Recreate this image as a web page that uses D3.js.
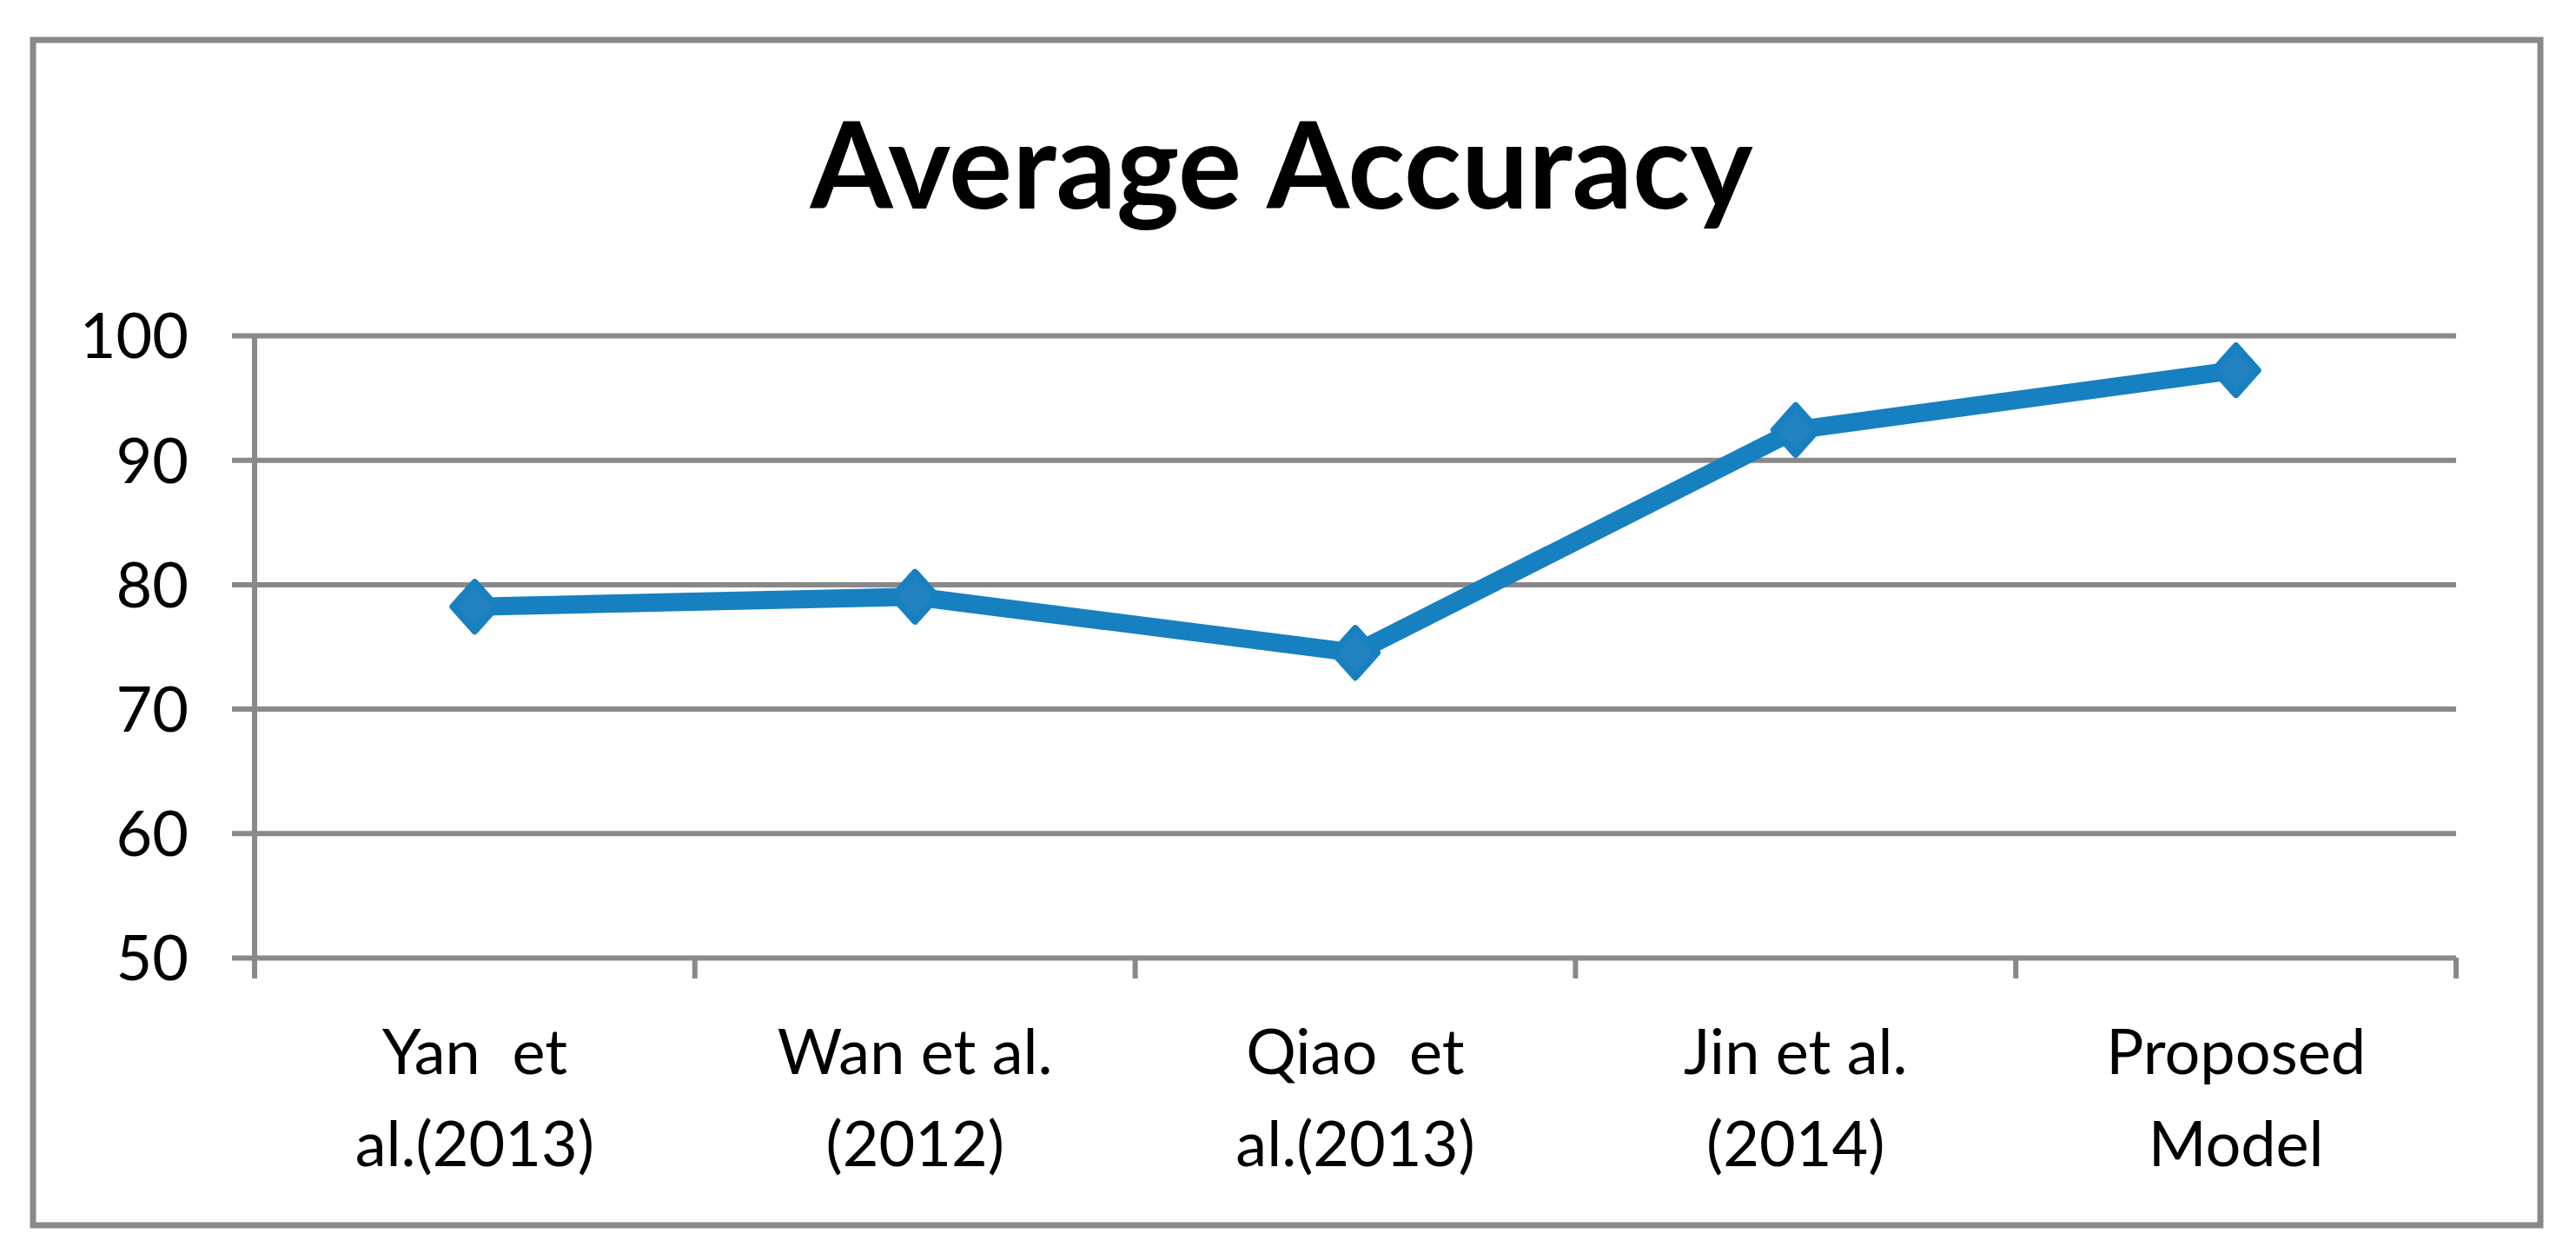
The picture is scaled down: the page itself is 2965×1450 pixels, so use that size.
<!DOCTYPE html>
<html>
<head>
<meta charset="utf-8">
<script src="https://cdn.jsdelivr.net/npm/d3@7"></script>
<style>
  html, body { margin: 0; padding: 0; background: #fff; }
  svg { display: block; }
</style>
</head>
<body>
<div id="chart"></div>
<script>
// Chart data
const categories = [
  ["Yan  et", "al.(2013)"],
  ["Wan et al.", "(2012)"],
  ["Qiao  et", "al.(2013)"],
  ["Jin et al.", "(2014)"],
  ["Proposed", "Model"]
];
const accuracy = [78.2, 79.0, 74.5, 92.4, 97.2];
const yTicks = [50, 60, 70, 80, 90, 100];
const chartTitle = "Average Accuracy";

const width = 2965, height = 1450;
const plot = {left: 293, right: 2827, top: 386, bottom: 1102};
const gray = "#898989", blue = "#1780c0";
const font = "Lato, 'Open Sans', sans-serif";

const svg = d3.select("#chart").append("svg")
  .attr("width", width)
  .attr("height", height);

// outer frame
svg.append("rect")
  .attr("x", 38).attr("y", 46)
  .attr("width", 2886).attr("height", 1364)
  .attr("fill", "none")
  .attr("stroke", gray)
  .attr("stroke-width", 7);

// title
svg.append("text")
  .attr("x", 1475).attr("y", 240)
  .attr("text-anchor", "middle")
  .attr("font-family", font)
  .attr("font-weight", "bold")
  .attr("font-size", 137)
  .attr("fill", "#000")
  .text(chartTitle);

// scales
const x = d3.scaleBand()
  .domain(d3.range(categories.length))
  .range([plot.left, plot.right]);

const y = d3.scaleLinear()
  .domain([50, 100])
  .range([plot.bottom, plot.top]);

// gridlines + y ticks
const yAxis = svg.append("g")
  .attr("transform", `translate(${plot.left},0)`)
  .call(d3.axisLeft(y).tickValues(yTicks).tickSize(-(plot.right - plot.left)).tickPadding(0));
yAxis.select(".domain").remove();
yAxis.selectAll(".tick line")
  .attr("x1", -26)
  .attr("stroke", gray)
  .attr("stroke-width", 6);
yAxis.selectAll(".tick text")
  .attr("x", -76)
  .attr("dy", "0.36em")
  .attr("font-family", font)
  .attr("font-size", 72)
  .attr("fill", "#000");

// vertical axis line
svg.append("line")
  .attr("x1", plot.left).attr("x2", plot.left)
  .attr("y1", plot.top).attr("y2", plot.bottom + 24)
  .attr("stroke", gray)
  .attr("stroke-width", 6);

// category boundary ticks below x axis
const bounds = d3.range(categories.length + 1).map(i => i < categories.length ? x(i) : x.range()[1]);
svg.append("g").selectAll("line")
  .data(bounds)
  .join("line")
  .attr("x1", d => d).attr("x2", d => d)
  .attr("y1", plot.bottom).attr("y2", plot.bottom + 24)
  .attr("stroke", gray)
  .attr("stroke-width", 6);

// category labels
const labels = svg.append("g").selectAll("text")
  .data(categories)
  .join("text")
  .attr("text-anchor", "middle")
  .attr("font-family", font)
  .attr("font-size", 72)
  .attr("fill", "#000");
labels.selectAll("tspan")
  .data((d, i) => d.map(s => ({s, i})))
  .join("tspan")
  .attr("x", d => x(d.i) + x.bandwidth() / 2)
  .attr("y", (d, j) => 1236 + j * 106)
  .style("white-space", "pre")
  .text(d => d.s);

// line
const pts = accuracy.map((v, i) => [x(i) + x.bandwidth() / 2, y(v)]);
svg.append("path")
  .attr("d", d3.line()(pts))
  .attr("fill", "none")
  .attr("stroke", blue)
  .attr("stroke-width", 21)
  .attr("stroke-linejoin", "round");

// diamond markers
svg.append("g").selectAll("path")
  .data(pts)
  .join("path")
  .attr("transform", d => `translate(${d[0]},${d[1]})`)
  .attr("d", "M0,-28L25,0L0,28L-25,0Z")
  .attr("fill", "#2383c1")
  .attr("stroke", blue)
  .attr("stroke-width", 8)
  .attr("stroke-linejoin", "round");
</script>
</body>
</html>
